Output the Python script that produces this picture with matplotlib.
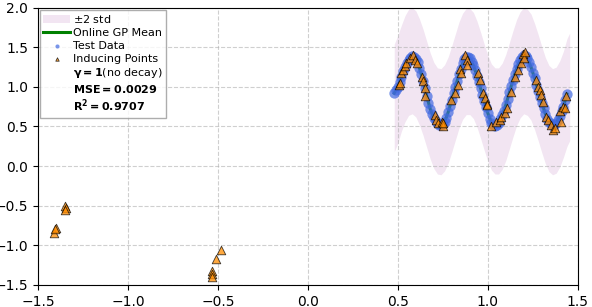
import numpy as np
import matplotlib.pyplot as plt

# GP posterior on the prediction grid
gp_x = [0.48, 0.50, 0.52, 0.54, 0.56, 0.58, 0.60, 0.62, 0.64, 0.66, 0.68, 0.70,
        0.72, 0.74, 0.76, 0.78, 0.80, 0.82, 0.84, 0.86, 0.88, 0.90, 0.92, 0.94,
        0.96, 0.98, 1.00, 1.02, 1.04, 1.06, 1.08, 1.10, 1.12, 1.14, 1.16, 1.18,
        1.20, 1.22, 1.24, 1.26, 1.28, 1.30, 1.32, 1.34, 1.36, 1.38, 1.40, 1.42,
        1.44]
gp_mean = [0.92, 1.00, 1.13, 1.25, 1.34, 1.38, 1.35, 1.24, 1.08, 0.89, 0.72, 0.61,
           0.54, 0.52, 0.56, 0.68, 0.84, 1.00, 1.16, 1.30, 1.37, 1.36, 1.27, 1.14,
           0.98, 0.82, 0.67, 0.55, 0.51, 0.55, 0.64, 0.77, 0.93, 1.09, 1.23, 1.34,
           1.39, 1.36, 1.25, 1.11, 0.95, 0.80, 0.66, 0.56, 0.51, 0.54, 0.63, 0.75,
           0.91]

# +-2 std band
band_x = [0.48, 0.50, 0.52, 0.54, 0.56, 0.58, 0.60, 0.62, 0.64, 0.66, 0.68, 0.70,
          0.72, 0.74, 0.76, 0.78, 0.80, 0.82, 0.84, 0.86, 0.88, 0.90, 0.92, 0.94,
          0.96, 0.98, 1.00, 1.02, 1.04, 1.06, 1.08, 1.10, 1.12, 1.14, 1.16, 1.18,
          1.20, 1.22, 1.24, 1.26, 1.28, 1.30, 1.32, 1.34, 1.36, 1.38, 1.40, 1.42,
          1.44, 1.455]
band_mid = [0.86, 0.97, 1.11, 1.23, 1.31, 1.33, 1.29, 1.19, 1.06, 0.91, 0.76, 0.64,
            0.57, 0.56, 0.61, 0.71, 0.85, 1.00, 1.15, 1.26, 1.32, 1.32, 1.27, 1.16,
            1.02, 0.87, 0.73, 0.62, 0.57, 0.57, 0.63, 0.74, 0.89, 1.04, 1.18, 1.28,
            1.33, 1.31, 1.25, 1.13, 0.99, 0.84, 0.70, 0.60, 0.56, 0.58, 0.66, 0.78,
            0.93, 1.00]
band_std = [0.34, 0.34, 0.335, 0.335, 0.335, 0.335, 0.335, 0.335, 0.335, 0.335,
            0.335, 0.335, 0.335, 0.335, 0.335, 0.335, 0.335, 0.335, 0.335, 0.335,
            0.335, 0.335, 0.335, 0.335, 0.335, 0.335, 0.335, 0.335, 0.335, 0.335,
            0.335, 0.335, 0.335, 0.335, 0.335, 0.335, 0.335, 0.335, 0.335, 0.335,
            0.335, 0.335, 0.335, 0.335, 0.335, 0.335, 0.335, 0.335, 0.34, 0.34]

# test data
test_x = [0.48, 0.49, 0.50, 0.51, 0.52, 0.53, 0.54, 0.55, 0.56, 0.57, 0.58, 0.59,
          0.60, 0.61, 0.62, 0.63, 0.64, 0.65, 0.66, 0.67, 0.68, 0.69, 0.70, 0.71,
          0.72, 0.73, 0.74, 0.75, 0.76, 0.77, 0.78, 0.79, 0.80, 0.81, 0.82, 0.83,
          0.84, 0.85, 0.86, 0.87, 0.88, 0.89, 0.90, 0.91, 0.92, 0.93, 0.94, 0.95,
          0.96, 0.97, 0.98, 0.99, 1.00, 1.01, 1.02, 1.03, 1.04, 1.05, 1.06, 1.07,
          1.08, 1.09, 1.10, 1.11, 1.12, 1.13, 1.14, 1.15, 1.16, 1.17, 1.18, 1.19,
          1.20, 1.21, 1.22, 1.23, 1.24, 1.25, 1.26, 1.27, 1.28, 1.29, 1.30, 1.31,
          1.32, 1.33, 1.34, 1.35, 1.36, 1.37, 1.38, 1.39, 1.40, 1.41, 1.42, 1.43, 1.44]
test_y = [0.92, 0.96, 1.00, 1.06, 1.13, 1.20, 1.25, 1.30, 1.34, 1.37, 1.39, 1.38,
          1.35, 1.31, 1.24, 1.16, 1.08, 0.98, 0.89, 0.80, 0.72, 0.66, 0.61, 0.57,
          0.54, 0.52, 0.52, 0.53, 0.56, 0.61, 0.68, 0.76, 0.84, 0.92, 1.00, 1.08,
          1.16, 1.23, 1.30, 1.35, 1.38, 1.38, 1.36, 1.32, 1.27, 1.21, 1.14, 1.06,
          0.98, 0.90, 0.82, 0.74, 0.67, 0.60, 0.55, 0.52, 0.51, 0.52, 0.55, 0.59,
          0.64, 0.70, 0.77, 0.85, 0.93, 1.01, 1.09, 1.16, 1.23, 1.29, 1.34, 1.38,
          1.40, 1.39, 1.36, 1.31, 1.25, 1.18, 1.11, 1.03, 0.95, 0.87, 0.80, 0.73,
          0.66, 0.60, 0.56, 0.53, 0.51, 0.52, 0.54, 0.58, 0.63, 0.69, 0.75, 0.83, 0.91]

# inducing points
ind_x = [-1.41, -1.40, -1.405, -1.35, -1.345, -1.35, -0.53, -0.53, -0.53, -0.51, -0.48,
         0.507, 0.511, 0.515, 0.530, 0.539, 0.548, 0.567, 0.585, 0.594, 0.604, 0.632,
         0.641, 0.650, 0.650, 0.706, 0.711, 0.724, 0.743, 0.752, 0.752, 0.798, 0.817,
         0.835, 0.844, 0.850, 0.872, 0.882, 0.885, 0.946, 0.956, 0.974, 0.983, 0.993,
         0.993, 1.020, 1.048, 1.067, 1.076, 1.094, 1.104, 1.131, 1.150, 1.169, 1.187,
         1.196, 1.202, 1.206, 1.270, 1.280, 1.289, 1.298, 1.307, 1.326, 1.335, 1.350,
         1.363, 1.372, 1.400, 1.409, 1.419, 1.428, 1.437]
ind_y = [-0.85, -0.78, -0.80, -0.51, -0.53, -0.55, -1.33, -1.36, -1.40, -1.17, -1.06,
         1.02, 1.05, 1.17, 1.21, 1.26, 1.30, 1.36, 1.40, 1.34, 1.30, 1.13,
         1.07, 0.98, 0.88, 0.64, 0.58, 0.54, 0.56, 0.50, 0.54, 0.83, 0.92,
         1.02, 1.23, 1.17, 1.40, 1.34, 1.28, 1.17, 1.09, 0.92, 0.86, 0.79,
         0.77, 0.50, 0.56, 0.58, 0.62, 0.67, 0.73, 0.94, 1.13, 1.21, 1.30,
         1.42, 1.36, 1.44, 1.09, 1.00, 0.96, 0.90, 0.81, 0.62, 0.58, 0.52,
         0.46, 0.48, 0.69, 0.56, 0.75, 0.73, 0.88]

band_mid = np.array(band_mid)
band_std = np.array(band_std)

fig = plt.figure(figsize=(5.92, 3.07), dpi=100)
ax = fig.add_axes([0.064, 0.072, 0.912, 0.903])

ax.fill_between(band_x, band_mid - 2 * band_std, band_mid + 2 * band_std,
                color='purple', alpha=0.1, linewidth=0, label=r'$\pm$2 std')
ax.plot(gp_x, gp_mean, color='green', lw=2.2, label='Online GP Mean', zorder=2)
ax.scatter(test_x, test_y, s=55, color='royalblue', alpha=0.7, linewidths=0,
           label='Test Data', zorder=2.5)
ax.scatter(ind_x, ind_y, s=38, marker='^', color='darkorange', edgecolors='black',
           linewidths=0.6, alpha=0.75, label='Inducing Points', zorder=3)
ax.plot([], [], ' ', label=r'$\mathbf{\gamma = 1}$(no decay)')
ax.plot([], [], ' ', label=r'$\mathbf{MSE = 0.0029}$')
ax.plot([], [], ' ', label=r'$\mathbf{R^2 = 0.9707}$')

ax.set_xlim(-1.5, 1.5)
ax.set_ylim(-1.5, 2.0)
ax.grid(True, linestyle='--', alpha=0.6)
leg = ax.legend(loc='upper left', fontsize=8, handlelength=2.4, handletextpad=0.25,
                borderpad=0.3, borderaxespad=0.2, markerscale=0.4,
                fancybox=False, labelspacing=0.25)
leg.get_frame().set_edgecolor('0.6')

fig.savefig('out.png', dpi=100)
